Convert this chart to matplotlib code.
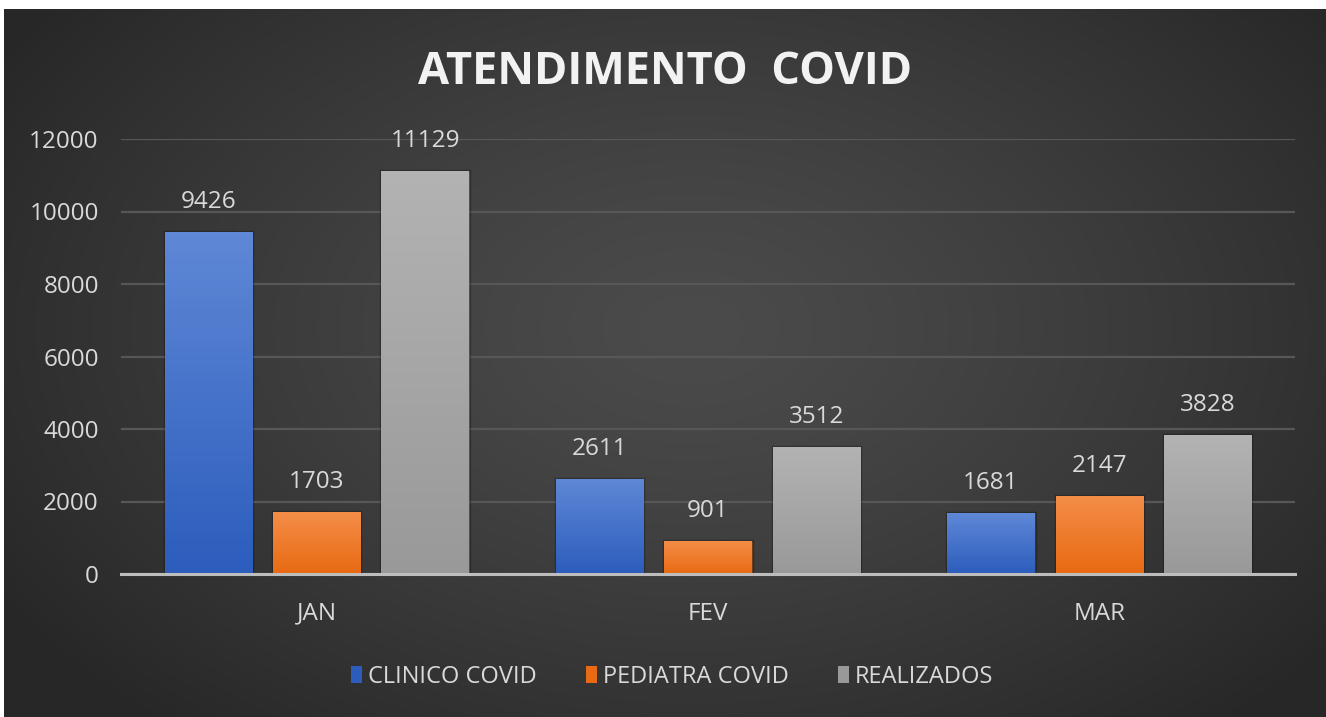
import numpy as np
import matplotlib
matplotlib.use("Agg")
import matplotlib.pyplot as plt
from matplotlib.patches import Patch
from matplotlib.colors import to_rgb

# --- data ---
months = ["JAN", "FEV", "MAR"]
clinico = [9426, 2611, 1681]
pediatra = [1703, 901, 2147]
realizados = [11129, 3512, 3828]
series_names = ["CLINICO COVID", "PEDIATRA COVID", "REALIZADOS"]
y_ticks = [0, 2000, 4000, 6000, 8000, 10000, 12000]

# (top colour, bottom colour) for the gradient fill
GRAD = [("#5f88d6", "#2c5dbd"), ("#f48d48", "#e86a12"), ("#b3b3b3", "#999999")]
TXT = "#d9d9d9"
FONT = "Open Sans"

W, H = 1326, 717
fig = plt.figure(figsize=(W / 100, H / 100), dpi=100)
fig.patch.set_facecolor("white")

# radial gradient background (white strip on top/left like the screenshot)
bg = fig.add_axes([4 / W, 0, 1 - 4 / W, 1 - 9 / H])
bg.axis("off")
yy, xx = np.mgrid[0:1:300j, 0:1:600j]
r = np.sqrt(((xx - 0.52) / 0.62) ** 2 + ((yy - 0.45) / 0.75) ** 2)
inner, outer = 0x4b / 255, 0x27 / 255
v = inner - (inner - outer) * np.clip(r, 0, 1) ** 1.3
bg.imshow(np.dstack([v, v, v]), aspect="auto", extent=[0, 1, 0, 1], origin="upper")

# plot area
left, right = 121 / W, 1295 / W
bottom, top = 1 - 574 / H, 1 - 139 / H
ax = fig.add_axes([left, bottom, right - left, top - bottom])
ax.patch.set_alpha(0)

x = np.arange(len(months))
bw = 0.223
off = 0.277
all_series = [clinico, pediatra, realizados]

for i, (vals, (ctop, cbot)) in enumerate(zip(all_series, GRAD)):
    bars = ax.bar(x + (i - 1) * off, vals, width=bw, color=cbot,
                  edgecolor=(0, 0, 0, 0.25), linewidth=2.5, zorder=2)
    grad = np.linspace(to_rgb(ctop), to_rgb(cbot), 100)[:, None, :]
    for b, val in zip(bars, vals):
        bx, bwid, bh = b.get_x(), b.get_width(), b.get_height()
        im = ax.imshow(grad, extent=[bx, bx + bwid, 0, bh], aspect="auto",
                       origin="upper", zorder=3)
        im.set_clip_path(b)
        ax.annotate(f"{val}", (bx + bwid / 2, bh), xytext=(0, 13),
                    textcoords="offset points", ha="center", va="bottom",
                    color=TXT, fontsize=17.5, family=FONT, zorder=4)

ax.set_xlim(-0.5, 2.5)
ax.set_ylim(0, 12000)
ax.set_yticks(y_ticks)
ax.set_xticks(x)
ax.set_xticklabels(months)
ax.grid(axis="y", color="#575757", linewidth=1.6, zorder=0)
ax.set_axisbelow(True)
for s in ["top", "right", "left"]:
    ax.spines[s].set_visible(False)
ax.spines["bottom"].set_color("#bdbdbd")
ax.spines["bottom"].set_linewidth(2.2)
ax.spines["bottom"].set_zorder(5)
ax.tick_params(axis="both", length=0, colors=TXT, labelsize=17.5)
ax.tick_params(axis="x", pad=20)
ax.tick_params(axis="y", pad=16)
for lab in ax.get_xticklabels() + ax.get_yticklabels():
    lab.set_family(FONT)

fig.text(665 / W, 1 - 72 / H, "ATENDIMENTO  COVID", ha="center", va="center",
         color="#f2f2f2", fontsize=32.5, fontweight="bold", family=FONT)

handles = [Patch(facecolor=c[1], edgecolor="none") for c in GRAD]
fig.legend(handles, series_names, loc="center", bbox_to_anchor=(672 / W, 1 - 677 / H),
           ncol=3, frameon=False, handlelength=0.45, handleheight=0.75,
           handletextpad=0.25, columnspacing=2.1,
           prop={"family": FONT, "size": 17}, labelcolor=TXT)

fig.savefig("out.png", dpi=100, facecolor=fig.get_facecolor())
